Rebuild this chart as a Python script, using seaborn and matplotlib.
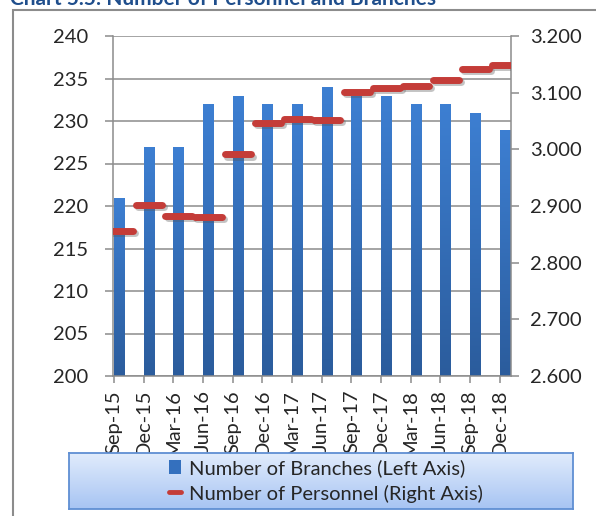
import numpy as np
import matplotlib
matplotlib.use('Agg')
import matplotlib.pyplot as plt
import matplotlib.patheffects as pe
import matplotlib.transforms as mtransforms
from matplotlib.colors import LinearSegmentedColormap
from matplotlib.patches import Rectangle, Patch
from matplotlib.lines import Line2D
from matplotlib.markers import MarkerStyle
from matplotlib.ticker import FuncFormatter, MultipleLocator
import seaborn as sns

# data
quarters = ['Sep-15', 'Dec-15', 'Mar-16', 'Jun-16', 'Sep-16', 'Dec-16', 'Mar-17',
            'Jun-17', 'Sep-17', 'Dec-17', 'Mar-18', 'Jun-18', 'Sep-18', 'Dec-18']
branches = [221, 227, 227, 232, 233, 232, 232, 234, 233, 233, 232, 232, 231, 229]
personnel = [2856, 2902, 2883, 2880, 2991, 3046, 3054, 3052, 3101, 3108, 3112, 3122, 3142, 3149]

title = 'Chart 5.5: Number of Personnel and Branches'
label_branches = 'Number of Branches (Left Axis)'
label_personnel = 'Number of Personnel (Right Axis)'

sns.set_style('white')
plt.rcParams['font.family'] = ['Lato', 'DejaVu Sans']

W, H = 596, 516
fig = plt.figure(figsize=(W / 100, H / 100), dpi=100)
ax = fig.add_axes([113 / W, 1 - 376 / H, (511 - 113) / W, (376 - 36) / H])

grid_col = '#8c8c8c'
red = '#C43C38'
bar_w = 0.36

sns.barplot(x=quarters, y=branches, color='#3470BE', width=bar_w, ax=ax, zorder=2)

# vertical gradient on each bar, like the original
bar_cmap = LinearSegmentedColormap.from_list('bar', ['#2B5C9C', '#3D7FD2'])
grad = np.linspace(0, 1, 256).reshape(-1, 1)
for p in list(ax.patches):
    x0 = p.get_x()
    top = p.get_y() + p.get_height()
    im = ax.imshow(grad, extent=[x0, x0 + p.get_width(), 200, top], origin='lower',
                   cmap=bar_cmap, aspect='auto', zorder=2.1)
    im.set_clip_path(p)
    p.set_facecolor('none')
    p.set_edgecolor('none')

ax.set_ylim(200, 240)
ax.yaxis.set_major_locator(MultipleLocator(5))
ax.grid(axis='y', color=grid_col, lw=1.1, zorder=0)
ax.set_axisbelow(True)

n = len(quarters)
ax.set_xticks(np.arange(n) - bar_w / 2)
ax.set_xticklabels(quarters, rotation=90, fontsize=14.5)
# labels sit a little to the right of their ticks in the original
shift = mtransforms.ScaledTranslation(3 / 100, 0, fig.dpi_scale_trans)
for t in ax.get_xticklabels():
    t.set_transform(t.get_transform() + shift)
ax.set_xlim(-bar_w / 2 - 1 / 29.67, 13.2)
ax.set_xlabel('')
ax.set_ylabel('')
ax.tick_params(axis='y', labelsize=14.5, length=6, width=1.1, color=grid_col, pad=12, left=True)
ax.tick_params(axis='x', length=5, width=1.1, color=grid_col, pad=5, bottom=True)
for s in ['left', 'bottom']:
    ax.spines[s].set_color(grid_col)
    ax.spines[s].set_linewidth(1.1)
ax.spines['top'].set_visible(False)
ax.spines['right'].set_visible(False)

# personnel on the right axis
ax2 = ax.twinx()
dash = MarkerStyle('_', capstyle='round')
sns.lineplot(x=np.arange(n), y=personnel, ax=ax2, linestyle='', marker=dash,
             markersize=19, markeredgewidth=5, color=red, markeredgecolor=red, zorder=3)
ax2.lines[0].set_path_effects([pe.SimpleLineShadow(offset=(1.5, -1.5), shadow_color='#555555', alpha=0.35),
                               pe.Normal()])
ax2.set_ylim(2600, 3200)
ax2.yaxis.set_major_locator(MultipleLocator(100))
ax2.yaxis.set_major_formatter(FuncFormatter(lambda v, _: f'{int(round(v)):,}'.replace(',', '.')))
ax2.tick_params(axis='y', labelsize=14.5, length=6, width=1.1, color=grid_col, pad=8, right=True)
ax2.set_xlabel('')
ax2.set_ylabel('')
ax2.spines['right'].set_color(grid_col)
ax2.spines['right'].set_linewidth(1.1)
for s in ['left', 'top', 'bottom']:
    ax2.spines[s].set_visible(False)
ax2.set_xlim(ax.get_xlim())

# legend box with gradient fill
lax = fig.add_axes([69 / W, 1 - 509 / H, 504 / W, 56 / H])
leg_cmap = LinearSegmentedColormap.from_list('leg', ['#A7C4F3', '#E1ECFC'])
lax.imshow(grad, extent=[0, 1, 0, 1], origin='lower', cmap=leg_cmap, aspect='auto')
lax.set_xticks([])
lax.set_yticks([])
for s in lax.spines.values():
    s.set_color('#5F8FD3')
    s.set_linewidth(1.3)

handles = [Patch(facecolor='#3470BE', edgecolor='none'),
           Line2D([0], [0], color=red, lw=3.5)]
fig.legend(handles, [label_branches, label_personnel], loc='center',
           bbox_to_anchor=(326 / W, 1 - 481 / H), frameon=False, fontsize=14.5,
           handlelength=0.6, handleheight=0.7, handletextpad=0.4, labelspacing=0.35)

# outer chart border and the title, cut at the top as in the original
fig.add_artist(Rectangle((13 / W, -0.1), 1.0, 1 - 10 / H + 0.1, transform=fig.transFigure,
                         fill=False, edgecolor='#8c8c8c', lw=1.5))
fig.text(10 / W, 1 - 5 / H, title, fontsize=15, fontweight='bold', color='#1F4E8C', va='baseline')

fig.savefig('out.png', dpi=100)
